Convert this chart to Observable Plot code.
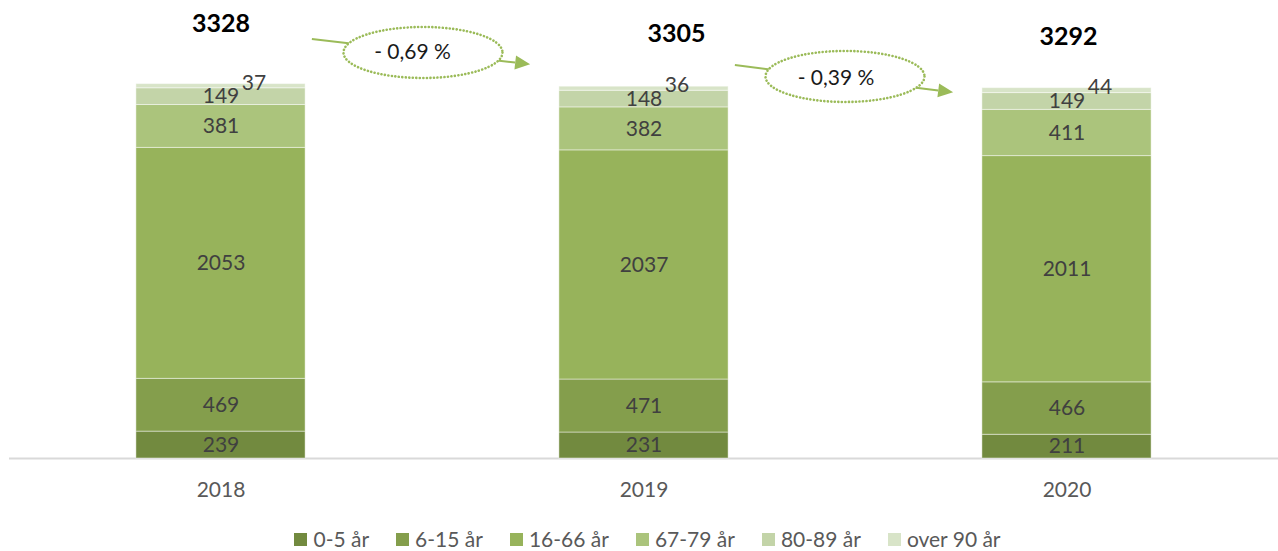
<!DOCTYPE html>
<html><head><meta charset="utf-8">
<script src="https://cdn.jsdelivr.net/npm/d3@7"></script>
<script src="https://cdn.jsdelivr.net/npm/@observablehq/plot@0.6"></script>
<style>
body{margin:0;background:#fff;font-family:Lato,"Open Sans",sans-serif;}
#legend{display:flex;justify-content:center;gap:27px;font-size:21px;color:#595959;height:24px;line-height:24px;padding-left:17px;width:1261px;}
.item{display:flex;align-items:center;white-space:nowrap}
.sw{width:13px;height:13px;margin-right:6px;display:inline-block}
</style></head><body><div id="chart"></div><div id="legend"></div>
<script>
// ---- data ----
const years = ["2018", "2019", "2020"];
const ageGroups = ["0-5 år", "6-15 år", "16-66 år", "67-79 år", "80-89 år", "over 90 år"];
const age0_5   = [239, 231, 211];
const age6_15  = [469, 471, 466];
const age16_66 = [2053, 2037, 2011];
const age67_79 = [381, 382, 411];
const age80_89 = [149, 148, 149];
const age90    = [37, 36, 44];
const totals   = [3328, 3305, 3292];
const changes  = ["- 0,69 %", "- 0,39 %"];
const colors   = ["#728a3f", "#849e4c", "#97b35b", "#abc47c", "#c3d4a8", "#d8e4c8"];

// ---- annotation layout (data coordinates) ----
const totalPos  = [{x: 0.0, y: 3858}, {x: 1.077, y: 3769}, {x: 2.0035, y: 3751}];
const arrowPos  = [{x1: 0.216, y1: 3724, x2: 0.732, y2: 3500}, {x1: 1.216, y1: 3493, x2: 1.732, y2: 3251}];
const ellipsePos = [{x: 0.4775, y: 3609}, {x: 1.4752, y: 3396}];
const changeTextPos = [{x: 0.4527, y: 3609}, {x: 1.4539, y: 3380}];

const series = [age0_5, age6_15, age16_66, age67_79, age80_89, age90];
const rows = [];
years.forEach((yr, i) => {
  let cum = 0;
  series.forEach((s, k) => {
    const v = s[i];
    rows.push({i, year: yr, group: ageGroups[k], value: v, y1: cum, y2: cum + v, mid: cum + v / 2, top: k === series.length - 1});
    cum += v;
  });
});
const totalRows = totals.map((t, i) => ({...totalPos[i], text: String(t)}));
const ellipseRows = ellipsePos.map((p, i) => ({...p, text: changes[i]}));
const changeRows = changeTextPos.map((p, i) => ({...p, text: changes[i]}));

const RX = 79.5, RY = 25.5, K = 0.5523;
const ellipseSymbol = {
  draw(ctx) {
    ctx.moveTo(RX, 0);
    ctx.bezierCurveTo(RX, RY * K, RX * K, RY, 0, RY);
    ctx.bezierCurveTo(-RX * K, RY, -RX, RY * K, -RX, 0);
    ctx.bezierCurveTo(-RX, -RY * K, -RX * K, -RY, 0, -RY);
    ctx.bezierCurveTo(RX * K, -RY, RX, -RY * K, RX, 0);
    ctx.closePath();
  }
};

function arrowsMark(index, scales) {
  const g = d3.create("svg:g");
  for (const a of arrowPos) {
    const x1 = scales.x(a.x1), y1 = scales.y(a.y1), x2 = scales.x(a.x2), y2 = scales.y(a.y2);
    const ang = Math.atan2(y2 - y1, x2 - x1), L = 15, W = 7;
    const bx = x2 - L * Math.cos(ang), by = y2 - L * Math.sin(ang);
    g.append("line").attr("x1", x1).attr("y1", y1).attr("x2", bx).attr("y2", by)
      .attr("stroke", "#9bbb59").attr("stroke-width", 2);
    g.append("path")
      .attr("d", `M${x2},${y2}L${bx - W * Math.sin(ang)},${by + W * Math.cos(ang)}L${bx + W * Math.sin(ang)},${by - W * Math.cos(ang)}Z`)
      .attr("fill", "#9bbb59");
  }
  return g.node();
}

const chart = Plot.plot({
  width: 1278,
  height: 527,
  marginLeft: 9,
  marginRight: 0,
  marginTop: 8,
  marginBottom: 69,
  style: {fontFamily: "Lato, 'Open Sans', sans-serif", background: "#fff"},
  x: {type: "linear", domain: [-0.5, 2.5]},
  y: {domain: [0, 4000], axis: null},
  color: {domain: ageGroups, range: colors},
  marks: [
    Plot.ruleY([0], {stroke: "#d9d9d9", strokeWidth: 2}),
    Plot.rect(rows, {x1: d => d.i - 0.2, x2: d => d.i + 0.2, y1: "y1", y2: "y2", fill: "group",
      stroke: "#ffffff", strokeOpacity: 0.45, strokeWidth: 1}),
    Plot.text(rows.filter(d => !d.top), {x: "i", y: "mid", text: d => String(d.value), fontSize: 21, fill: "#404040"}),
    Plot.text(rows.filter(d => d.top), {x: "i", y: "mid", text: d => String(d.value), fontSize: 21, fill: "#404040", dx: 33, dy: -3}),
    Plot.axisX({ticks: [0, 1, 2], tickFormat: i => years[i], tickSize: 0, tickPadding: 24, fontSize: 21, color: "#595959", label: null}),
    Plot.text(totalRows, {x: "x", y: "y", text: "text", fontSize: 25, fontWeight: "bold", fill: "#000"}),
    arrowsMark,
    Plot.dot(ellipseRows, {x: "x", y: "y", symbol: ellipseSymbol, fill: "#ffffff", stroke: "#9bbb59",
      strokeWidth: 2.6, strokeDasharray: "0.1 3.4", strokeLinecap: "round"}),
    Plot.text(changeRows, {x: "x", y: "y", text: "text", fontSize: 21, fill: "#1a1a1a"})
  ]
});
document.getElementById("chart").appendChild(chart);

const legend = document.getElementById("legend");
ageGroups.forEach((g, k) => {
  const item = document.createElement("div");
  item.className = "item";
  const sw = document.createElement("span");
  sw.className = "sw";
  sw.style.background = colors[k];
  item.appendChild(sw);
  item.appendChild(document.createTextNode(g));
  legend.appendChild(item);
});
</script>
</body></html>
